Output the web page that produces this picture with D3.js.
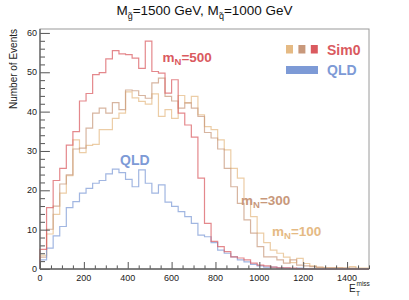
<!DOCTYPE html>
<html>
<head>
<meta charset="utf-8">
<script src="https://cdn.jsdelivr.net/npm/d3@7"></script>
<style>
  body { margin: 0; background: #fff; }
  text { font-family: "Liberation Sans", Arial, sans-serif; }
</style>
</head>
<body>
<svg id="chart" width="409" height="300"></svg>
<script>
// 50 bins of 30 GeV from 0 to 1500
var binEdges = d3.range(0, 1501, 30)

var mN500 = [5.0, 15.6, 22.5, 25.6, 31.5, 34.9, 42.7, 44.6, 49.4, 49.9,
             53.4, 55.5, 54.7, 54.5, 53.6, 51.0, 57.9, 50.2, 49.8, 44.7,
             48.1, 39.6, 36.6, 33.5, 23.1, 11.6, 7.0, 5.7, 4.4, 3.1,
             2.8, 2.3, 1.5, 1.0, 0.8, 0.5, 0.3, 0.3, 0.2, 0.1,
             0, 0, 0, 0, 0, 0, 0, 0, 0, 0]

var mN300 = [3.0, 10.1, 16.0, 21.6, 23.9, 30.5, 30.7, 35.8, 39.6, 40.9,
             39.6, 42.3, 40.5, 45.5, 45.3, 44.1, 43.4, 47.3, 48.5, 43.9,
             42.7, 40.9, 42.2, 40.9, 38.8, 34.7, 33.3, 30.5, 25.6, 20.9,
             16.7, 12.5, 9.1, 5.7, 3.1, 3.1, 2.3, 1.5, 2.3, 1.0,
             0.8, 0.6, 0.4, 0.3, 0.3, 0.3, 0.2, 0.2, 0, 0]

var mN100 = [3.5, 8.9, 13.9, 19.3, 23.7, 32.8, 29.6, 31.4, 31.7, 35.4,
             35.4, 38.3, 39.6, 45.0, 43.5, 42.6, 41.9, 44.5, 38.8, 40.5,
             38.3, 44.1, 42.2, 43.9, 39.2, 36.2, 35.4, 32.8, 30.3, 25.6,
             23.1, 17.6, 13.3, 9.1, 6.7, 4.8, 4.0, 3.0, 1.6, 2.7,
             1.4, 0.8, 0.5, 0.3, 0.3, 0.3, 0.2, 0.6, 0.2, 0.2]

var qld = [2.3, 5.3, 8.4, 10.8, 15.6, 17.1, 19.3, 20.5, 21.8, 22.5,
           24.2, 25.4, 24.5, 22.8, 20.9, 25.2, 21.8, 19.3, 21.4, 17.0,
           15.9, 14.6, 13.3, 11.6, 8.6, 8.2, 6.7, 4.8, 4.0, 3.1,
           2.3, 1.8, 1.2, 0.8, 0.5, 0.5, 0.3, 0.2, 0.1, 0.2,
           0, 0, 0, 0, 0, 0, 0, 0, 0, 0]

var xTicks = [0, 200, 400, 600, 800, 1000, 1200, 1400]
var yTicks = [0, 10, 20, 30, 40, 50, 60]

var dimensions = {
    width: 409,
    height: 300,
    margin: { top: 29, bottom: 31, left: 40, right: 40 }
}

var colors = {
    m100: "#e5ba84",
    m300: "#c8987b",
    m500: "#da5a5f",
    qld:  "#7d9ad6"
}

var svg = d3.select("#chart")

var xScale = d3.scaleLinear()
               .domain([0, 1500])
               .range([dimensions.margin.left, dimensions.width - dimensions.margin.right])

var yScale = d3.scaleLinear()
               .domain([0, 61])
               .range([dimensions.height - dimensions.margin.bottom, dimensions.margin.top])

var x0 = xScale(0), x1 = xScale(1500), y0 = yScale(0), y1 = yScale(61)

// frame
svg.append("rect")
   .attr("x", x0).attr("y", y1)
   .attr("width", x1 - x0).attr("height", y0 - y1)
   .attr("fill", "none")
   .attr("stroke", "#9a9a9a")
   .attr("stroke-width", 1)

// step outline of a histogram
function stepPath(values) {
    var p = d3.path()
    p.moveTo(xScale(binEdges[0]), yScale(0))
    values.forEach((v, i) => {
        p.lineTo(xScale(binEdges[i]), yScale(v))
        p.lineTo(xScale(binEdges[i + 1]), yScale(v))
    })
    p.lineTo(xScale(binEdges[binEdges.length - 1]), yScale(0))
    return p.toString()
}

var hists = [
    {values: mN100, color: colors.m100},
    {values: mN300, color: colors.m300},
    {values: qld,   color: colors.qld},
    {values: mN500, color: colors.m500}
]

svg.append("g")
   .selectAll(".hist")
   .data(hists)
   .enter()
   .append("path")
   .attr("class", "hist")
   .attr("d", d => stepPath(d.values))
   .attr("fill", "none")
   .attr("stroke", d => d.color)
   .attr("stroke-width", 1.2)
   .attr("stroke-opacity", 0.72)

// axes: ticks drawn inside the frame, like ROOT
var xAxis = d3.axisTop(xScale)
              .tickValues(d3.range(0, 1501, 50))
              .tickSize(0)
              .tickFormat("")

var xAxisG = svg.append("g").attr("transform", `translate(0,${y0})`)
xAxisG.call(xAxis)
xAxisG.select(".domain").remove()
xAxisG.selectAll(".tick line")
      .attr("y2", d => d % 200 === 0 ? -7 : -3.6)
      .attr("stroke", "#555")

xAxisG.selectAll(".xlabel")
      .data(xTicks)
      .enter()
      .append("text")
      .attr("x", d => xScale(d))
      .attr("y", 11.5)
      .attr("text-anchor", "middle")
      .attr("font-size", "9px")
      .attr("fill", "#222")
      .text(d => d)

var yAxis = d3.axisRight(yScale)
              .tickValues(d3.range(0, 61, 2))
              .tickSize(0)
              .tickFormat("")

var yAxisG = svg.append("g").attr("transform", `translate(${x0},0)`)
yAxisG.call(yAxis)
yAxisG.select(".domain").remove()
yAxisG.selectAll(".tick line")
      .attr("x2", d => d % 10 === 0 ? 9.9 : 5)
      .attr("stroke", "#555")

yAxisG.selectAll(".ylabel")
      .data(yTicks)
      .enter()
      .append("text")
      .attr("x", -3)
      .attr("y", d => yScale(d))
      .attr("dy", "0.35em")
      .attr("text-anchor", "end")
      .attr("font-size", "9px")
      .attr("fill", "#222")
      .text(d => d)

// axis lines
svg.append("line")
   .attr("x1", x0).attr("x2", x1).attr("y1", y0).attr("y2", y0)
   .attr("stroke", "#666").attr("stroke-width", 1.3)
svg.append("line")
   .attr("x1", x0).attr("x2", x0).attr("y1", y0).attr("y2", y1)
   .attr("stroke", "#666").attr("stroke-width", 1.3)

// title
var title = svg.append("text")
               .attr("x", 204.5)
               .attr("y", 15)
               .attr("text-anchor", "middle")
               .attr("font-size", "13.5px")
               .attr("fill", "#111")
title.append("tspan").text("M")
title.append("tspan").attr("font-size", "9px").attr("dy", 3.5).text("g\u0303")
title.append("tspan").attr("dy", -3.5).text("=1500 GeV, M")
title.append("tspan").attr("font-size", "9px").attr("dy", 3.5).text("q\u0303")
title.append("tspan").attr("dy", -3.5).text("=1000 GeV")

// y axis title
svg.append("text")
   .attr("transform", `translate(17,${y1}) rotate(-90)`)
   .attr("text-anchor", "end")
   .attr("font-size", "10px")
   .attr("fill", "#222")
   .text("Number of Events")

// x axis title
var xTitle = svg.append("g").attr("fill", "#222")
xTitle.append("text").attr("x", 349).attr("y", 292).attr("font-size", "10px").text("E")
xTitle.append("text").attr("x", 356).attr("y", 296).attr("font-size", "6.5px").text("T")
xTitle.append("text").attr("x", 356.5).attr("y", 285.5).attr("font-size", "6.5px").text("miss")

// legend
var legendSquares = [colors.m100, colors.m300, colors.m500]
svg.append("g")
   .selectAll("rect")
   .data(legendSquares)
   .enter()
   .append("rect")
   .attr("x", (d, i) => 286 + i * 12.4)
   .attr("y", 45)
   .attr("width", 7)
   .attr("height", 8.5)
   .attr("fill", d => d)

svg.append("rect")
   .attr("x", 286).attr("y", 66)
   .attr("width", 32).attr("height", 8)
   .attr("fill", colors.qld)

svg.append("text")
   .attr("x", 327).attr("y", 54.5)
   .attr("font-size", "14px").attr("font-weight", "bold")
   .attr("fill", colors.m500)
   .text("Sim0")

svg.append("text")
   .attr("x", 327).attr("y", 74.5)
   .attr("font-size", "14px").attr("font-weight", "bold")
   .attr("fill", colors.qld)
   .text("QLD")

// labels on the curves
function massLabel(x, y, mass, color) {
    var t = svg.append("text")
               .attr("x", x).attr("y", y)
               .attr("font-size", "13.5px").attr("font-weight", "bold")
               .attr("fill", color)
    t.append("tspan").text("m")
    t.append("tspan").attr("font-size", "9.5px").attr("dy", 3).text("N")
    t.append("tspan").attr("dy", -3).text("=" + mass)
}

massLabel(162.5, 62, 500, colors.m500)
massLabel(241, 205, 300, colors.m300)
massLabel(272, 236, 100, colors.m100)

svg.append("text")
   .attr("x", 120).attr("y", 165)
   .attr("font-size", "14px").attr("font-weight", "bold")
   .attr("fill", colors.qld)
   .text("QLD")
</script>
</body>
</html>
